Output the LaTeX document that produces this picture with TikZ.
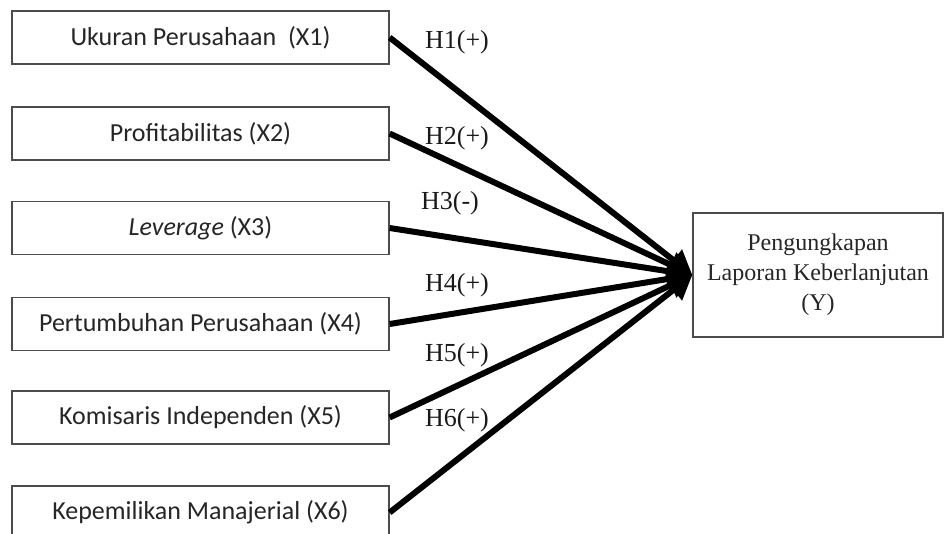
\documentclass[tikz,border=0pt]{standalone}
\usepackage{fontspec}
\setmainfont{Liberation Serif}
\newfontfamily\boxfont{Carlito}
\usetikzlibrary{arrows.meta}
\begin{document}
\begin{tikzpicture}[x=1pt,y=-1pt,
  varbox/.style={draw=black!70,line width=1.3pt,minimum width=377pt,minimum height=53pt,inner sep=0pt,font=\boxfont\fontsize{26}{30}\selectfont,text=black!85,fill=white},
  ybox/.style={draw=black!70,line width=1.3pt,minimum width=250pt,minimum height=124pt,inner sep=0pt,align=center,text=black!85,font=\fontsize{24}{30}\selectfont},
  hlab/.style={font=\fontsize{26}{30}\selectfont,inner sep=0pt,text=black!90},
  conn/.style={line width=6pt,-{Triangle[length=24pt,width=26pt]}}]
\useasboundingbox (0,0) rectangle (944,533);
\begin{scope}
\clip (0,0) rectangle (944,533);
\node[varbox] (x1) at (200.5,37.5) {Ukuran Perusahaan\ \ (X1)};
\node[varbox] (x2) at (200.5,133.5) {Profitabilitas (X2)};
\node[varbox] (x3) at (200.5,228) {\textit{Leverage} (X3)};
\node[varbox] (x4) at (200.5,324) {Pertumbuhan Perusahaan (X4)};
\node[varbox] (x5) at (200.5,417.5) {Komisaris Independen (X5)};
\node[varbox] (x6) at (200.5,512.5) {Kepemilikan Manajerial (X6)};
\node[ybox] (y) at (818,275) {Pengungkapan\\Laporan Keberlanjutan\\(Y)};
\draw[conn] (x1.east) -- (y.west);
\draw[conn] (x2.east) -- (y.west);
\draw[conn] (x3.east) -- (y.west);
\draw[conn] (x4.east) -- (y.west);
\draw[conn] (x5.east) -- (y.west);
\draw[conn] (x6.east) -- (y.west);
\node[hlab] (h1) at (457,42) {H1(+)};
\node[hlab] (h2) at (457,138) {H2(+)};
\node[hlab] (h3) at (450,203) {H3(-)};
\node[hlab] (h4) at (457,285) {H4(+)};
\node[hlab] (h5) at (457,355) {H5(+)};
\node[hlab] (h6) at (457,420) {H6(+)};
\end{scope}
\end{tikzpicture}
\end{document}
